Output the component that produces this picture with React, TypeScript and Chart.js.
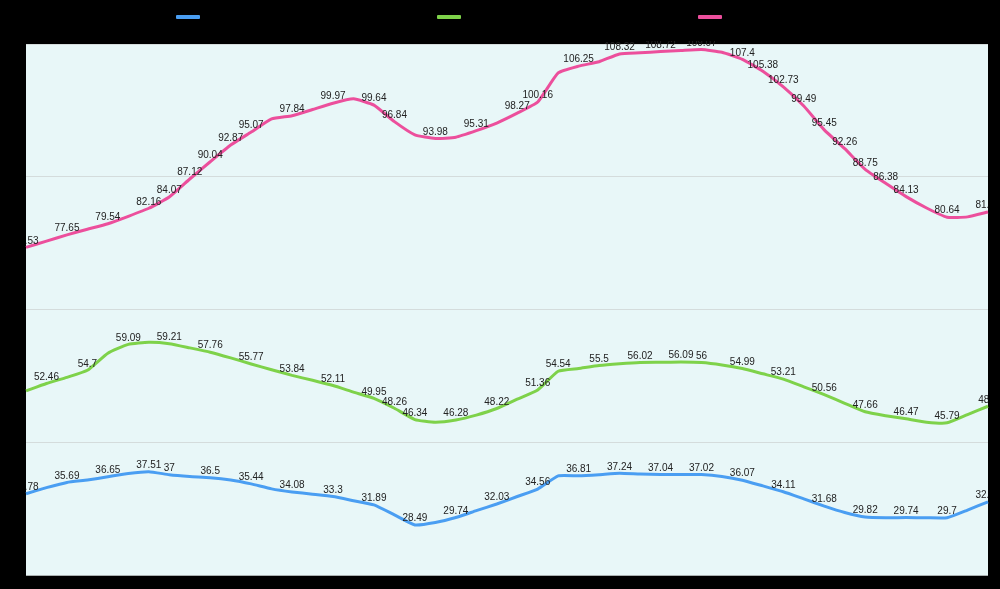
import React, { useEffect, useRef } from "react";
import { Chart, registerables } from "chart.js";

Chart.register(...registerables);

const categories: string[] = [
  "1", "2", "3", "4", "5", "6", "7", "8", "9", "10", "11", "12",
  "13", "14", "15", "16", "17", "18", "19", "20", "21", "22", "23", "24",
  "25", "26", "27", "28", "29", "30", "31", "32", "33", "34", "35", "36",
  "37", "38", "39", "40", "41", "42", "43", "44", "45", "46", "47", "48",
];

const blueValues: number[] = [
  33.78, 34.8, 35.69, 36.1, 36.65, 37.2, 37.51, 37, 36.7, 36.5, 36.1, 35.44,
  34.6, 34.08, 33.7, 33.3, 32.6, 31.89, 30.2, 28.49, 28.9, 29.74, 30.9, 32.03,
  33.3, 34.56, 36.8, 36.81, 37.0, 37.24, 37.1, 37.04, 37.05, 37.02, 36.7, 36.07,
  35.1, 34.11, 32.9, 31.68, 30.6, 29.82, 29.7, 29.74, 29.7, 29.7, 31.0, 32.41,
];

const greenValues: number[] = [
  51.2, 52.46, 53.5, 54.7, 57.6, 59.09, 59.45, 59.21, 58.5, 57.76, 56.8, 55.77,
  54.8, 53.84, 53.0, 52.11, 51.0, 49.95, 48.26, 46.34, 45.9, 46.28, 47.1, 48.22,
  49.8, 51.36, 54.54, 55.0, 55.5, 55.8, 56.02, 56.05, 56.09, 56, 55.6, 54.99,
  54.1, 53.21, 51.9, 50.56, 49.1, 47.66, 47.0, 46.47, 45.9, 45.79, 47.2, 48.6,
];

const pinkValues: number[] = [
  75.53, 76.6, 77.65, 78.6, 79.54, 80.8, 82.16, 84.07, 87.12, 90.04, 92.87, 95.07,
  97.3, 97.84, 98.9, 99.97, 100.7, 99.64, 96.84, 94.6, 93.98, 94.2, 95.31, 96.6,
  98.27, 100.16, 105.1, 106.25, 107.0, 108.32, 108.5, 108.72, 108.9, 109.07, 108.6, 107.4,
  105.38, 102.73, 99.49, 95.45, 92.26, 88.75, 86.38, 84.13, 82.2, 80.64, 80.7, 81.53,
];

// indices whose value labels are hidden in the reference (overlap hiding)
const blueHiddenLabels: number[] = [1, 3, 5, 8, 10, 12, 14, 16, 18, 20, 22, 24, 26, 28, 30, 32, 34, 36, 38, 40, 42, 44, 46];
const greenHiddenLabels: number[] = [0, 2, 4, 6, 8, 10, 12, 14, 16, 20, 22, 24, 27, 29, 31, 34, 36, 38, 40, 42, 44, 46];
const pinkHiddenLabels: number[] = [1, 3, 5, 12, 14, 16, 19, 21, 23, 26, 28, 30, 32, 34, 44, 46];

const seriesNames: string[] = ["Series 1", "Series 2", "Series 3"];
const seriesColors: string[] = ["#4a9ef2", "#7ed24a", "#ec4f9c"];

const yMin = 20;
const yMax = 110;
const yStep = 22.5;

const areaBgPlugin = {
  id: "areaBg",
  beforeDraw(chart: any) {
    const { ctx, chartArea } = chart;
    ctx.save();
    ctx.fillStyle = "#e8f7f8";
    ctx.fillRect(chartArea.left, chartArea.top, chartArea.right - chartArea.left, chartArea.bottom - chartArea.top);
    ctx.restore();
  },
};

const legendPlugin = {
  id: "boxLegend",
  afterDraw(chart: any) {
    const { ctx, width } = chart;
    ctx.save();
    chart.data.datasets.forEach((ds: any, i: number) => {
      const x = width * 0.176 + i * width * 0.261;
      ctx.fillStyle = ds.borderColor;
      ctx.beginPath();
      if (ctx.roundRect) ctx.roundRect(x, 15, 24, 4, 1);
      else ctx.rect(x, 15, 24, 4);
      ctx.fill();
    });
    ctx.restore();
  },
};

const valueLabelPlugin = {
  id: "valueLabels",
  afterDatasetsDraw(chart: any) {
    const { ctx, chartArea } = chart;
    ctx.save();
    ctx.beginPath();
    ctx.rect(chartArea.left, chartArea.top - 3, chartArea.right - chartArea.left, chartArea.bottom - chartArea.top + 3);
    ctx.clip();
    ctx.font = "10px 'Liberation Sans', Arial, sans-serif";
    ctx.fillStyle = "#222222";
    ctx.textAlign = "center";
    ctx.textBaseline = "middle";
    chart.data.datasets.forEach((ds: any, di: number) => {
      const meta = chart.getDatasetMeta(di);
      const hidden: number[] = ds.hiddenLabels || [];
      meta.data.forEach((pt: any, i: number) => {
        if (hidden.includes(i)) return;
        ctx.fillText(String(ds.data[i]), pt.x, pt.y - 6.5);
      });
    });
    ctx.restore();
  },
};

export default function App() {
  const canvasRef = useRef<HTMLCanvasElement | null>(null);

  useEffect(() => {
    if (!canvasRef.current) return;
    const values = [blueValues, greenValues, pinkValues];
    const hiddens = [blueHiddenLabels, greenHiddenLabels, pinkHiddenLabels];
    const chart = new Chart(canvasRef.current, {
      type: "line",
      data: {
        labels: categories,
        datasets: values.map((d, i) => ({
          label: seriesNames[i],
          data: d,
          borderColor: seriesColors[i],
          backgroundColor: seriesColors[i],
          borderWidth: 3,
          pointRadius: 0,
          tension: 0.15,
          fill: false,
          hiddenLabels: hiddens[i],
        })) as any,
      },
      options: {
        animation: false,
        responsive: false,
        maintainAspectRatio: false,
        layout: { padding: { left: 26, right: 12, top: 44, bottom: 14 } },
        plugins: {
          legend: { display: false },
          tooltip: { enabled: false },
        },
        scales: {
          x: { display: false, offset: false },
          y: {
            min: yMin,
            max: yMax,
            ticks: { display: false, stepSize: yStep },
            grid: {
              drawTicks: false,
              color: (c: any) => (c.tick && c.tick.value === yMin ? "#a9b0b0" : "#d4dcdc"),
              lineWidth: 1,
            },
            border: { display: false },
          },
        },
      },
      plugins: [areaBgPlugin, valueLabelPlugin, legendPlugin],
    });
    return () => chart.destroy();
  }, []);

  return (
    <div style={{ position: "fixed", left: 0, top: 0, width: 1000, height: 589, background: "#000" }}>
      <canvas ref={canvasRef} width={1000} height={589} style={{ display: "block" }} />
    </div>
  );
}
